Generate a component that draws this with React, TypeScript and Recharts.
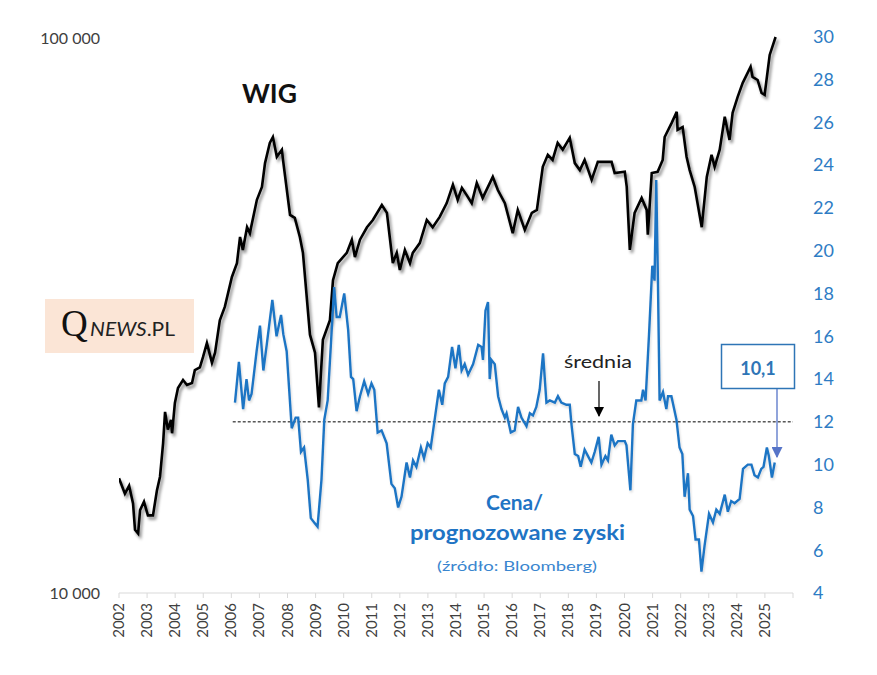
import { LineChart, Line, XAxis, YAxis, ReferenceLine } from "recharts";

const years = [
  2002, 2003, 2004, 2005, 2006, 2007, 2008, 2009, 2010, 2011, 2012, 2013,
  2014, 2015, 2016, 2017, 2018, 2019, 2020, 2021, 2022, 2023, 2024, 2025, 2026,
];

const wigDates = [
  2002.0, 2002.21, 2002.36, 2002.5, 2002.57, 2002.68, 2002.75, 2002.89, 2003.03, 2003.21,
  2003.35, 2003.46, 2003.57, 2003.64, 2003.74, 2003.85, 2003.89, 2003.99, 2004.1, 2004.28,
  2004.42, 2004.6, 2004.7, 2004.88, 2004.99, 2005.13, 2005.31, 2005.42, 2005.59, 2005.77,
  2006.02, 2006.2, 2006.31, 2006.41, 2006.56, 2006.66, 2006.91, 2007.09, 2007.2, 2007.37,
  2007.48, 2007.62, 2007.8, 2007.84, 2008.09, 2008.26, 2008.44, 2008.55, 2008.8, 2008.98,
  2009.12, 2009.26, 2009.51, 2009.62, 2009.79, 2010.11, 2010.29, 2010.4, 2010.58, 2010.83,
  2011.04, 2011.36, 2011.54, 2011.64, 2011.75, 2011.89, 2012.0, 2012.18, 2012.36, 2012.46,
  2012.71, 2012.96, 2013.17, 2013.42, 2013.67, 2013.89, 2014.06, 2014.21, 2014.38, 2014.56,
  2014.74, 2014.95, 2015.31, 2015.49, 2015.74, 2016.02, 2016.2, 2016.45, 2016.7, 2016.88,
  2017.09, 2017.27, 2017.44, 2017.62, 2017.8, 2018.05, 2018.23, 2018.41, 2018.58, 2018.83,
  2019.05, 2019.37, 2019.54, 2019.65, 2020.01, 2020.08, 2020.19, 2020.36, 2020.61, 2020.79,
  2020.83, 2020.97, 2021.18, 2021.36, 2021.43, 2021.68, 2021.86, 2021.89, 2022.07, 2022.21,
  2022.32, 2022.5, 2022.75, 2022.93, 2023.1, 2023.21, 2023.39, 2023.57, 2023.74, 2023.85,
  2024.03, 2024.21, 2024.49, 2024.56, 2024.74, 2024.88, 2024.99, 2025.17, 2025.38,
];
const wigValues = [
  16100, 15100, 15600, 14500, 13000, 12800, 14100, 14600, 13800, 13800,
  15300, 16200, 18600, 21200, 19700, 20500, 19400, 22000, 23400, 24200,
  23700, 23900, 25200, 25500, 26600, 28200, 26000, 27100, 31000, 32800,
  37100, 39300, 43800, 41500, 45600, 44500, 51100, 53900, 59500, 64700,
  66300, 61100, 62900, 60300, 48000, 47400, 43800, 41000, 29200, 27100,
  21600, 28600, 31000, 36600, 39300, 41000, 43300, 40300, 43300, 45600,
  47000, 50000, 48400, 43800, 39300, 41000, 38200, 41500, 39300, 41000,
  42700, 47000, 45600, 47600, 50400, 54400, 51100, 53700, 52100, 50400,
  54800, 51500, 56200, 53200, 50400, 44500, 49000, 45100, 48400, 49000,
  58600, 61600, 60300, 64700, 62900, 66100, 59500, 57800, 60300, 55500,
  59800, 59800, 59800, 57100, 57400, 53900, 41500, 48400, 51500, 49000,
  44200, 57100, 57400, 60300, 66300, 70300, 73600, 68300, 69100, 61100,
  57800, 53900, 45600, 56200, 61600, 58600, 62900, 72100, 65500, 73300,
  78300, 83000, 88700, 85100, 84000, 79600, 79000, 93200, 100400,
];

const peDates = [
  2006.13, 2006.27, 2006.42, 2006.54, 2006.63, 2006.72, 2006.9, 2007.02, 2007.14, 2007.26,
  2007.46, 2007.61, 2007.77, 2007.85, 2007.97, 2008.15, 2008.29, 2008.38, 2008.48, 2008.59,
  2008.72, 2008.83, 2008.95, 2009.07, 2009.21, 2009.31, 2009.43, 2009.54, 2009.66, 2009.75,
  2009.86, 2010.02, 2010.16, 2010.26, 2010.34, 2010.46, 2010.58, 2010.73, 2010.87, 2010.99,
  2011.09, 2011.21, 2011.35, 2011.53, 2011.7, 2011.82, 2011.94, 2012.06, 2012.24, 2012.36,
  2012.47, 2012.59, 2012.75, 2012.86, 2012.99, 2013.1, 2013.25, 2013.39, 2013.51, 2013.6,
  2013.72, 2013.86, 2013.98, 2014.1, 2014.2, 2014.31, 2014.43, 2014.61, 2014.79, 2014.91,
  2014.96, 2015.05, 2015.14, 2015.2, 2015.26, 2015.38, 2015.5, 2015.62, 2015.74, 2015.8,
  2015.95, 2016.09, 2016.21, 2016.33, 2016.51, 2016.63, 2016.74, 2016.86, 2016.98, 2017.1,
  2017.22, 2017.34, 2017.52, 2017.63, 2017.75, 2017.93, 2018.05, 2018.11, 2018.23, 2018.35,
  2018.44, 2018.58, 2018.7, 2018.82, 2018.94, 2019.08, 2019.18, 2019.32, 2019.41, 2019.53,
  2019.65, 2019.77, 2020.01, 2020.07, 2020.21, 2020.3, 2020.42, 2020.6, 2020.66, 2020.75,
  2020.87, 2020.99, 2021.07, 2021.13, 2021.19, 2021.25, 2021.37, 2021.49, 2021.55, 2021.67,
  2021.85, 2021.96, 2022.06, 2022.14, 2022.26, 2022.32, 2022.44, 2022.53, 2022.65, 2022.74,
  2022.85, 2023.01, 2023.15, 2023.27, 2023.39, 2023.57, 2023.68, 2023.8, 2023.92, 2024.1,
  2024.22, 2024.39, 2024.52, 2024.63, 2024.75, 2024.87, 2024.95, 2025.07, 2025.14, 2025.25,
  2025.35,
];
const peValues = [
  12.9, 14.8, 12.6, 14.0, 13.0, 13.3, 15.3, 16.5, 14.4, 15.6,
  17.7, 16.0, 17.0, 16.1, 15.3, 11.7, 12.2, 12.2, 10.6, 10.8,
  9.3, 7.5, 7.3, 7.1, 9.3, 12.1, 13.0, 15.5, 18.3, 16.9,
  16.9, 18.0, 16.3, 14.1, 14.0, 12.5, 13.2, 13.9, 13.3, 13.8,
  13.5, 11.5, 11.6, 11.0, 9.1, 8.9, 8.0, 8.5, 10.1, 9.4,
  10.2, 9.9, 10.8, 10.3, 11.0, 10.8, 12.2, 13.5, 12.8, 13.8,
  14.1, 15.5, 14.5, 15.6, 14.4, 14.7, 14.2, 14.7, 15.6, 15.5,
  14.9, 17.2, 17.6, 14.0, 14.9, 14.7, 13.2, 12.6, 12.2, 12.4,
  11.5, 11.6, 12.7, 12.2, 11.8, 12.4, 12.3, 12.7, 13.5, 15.2,
  12.9, 13.0, 12.9, 13.2, 12.9, 12.8, 12.8, 11.9, 10.5, 10.4,
  9.9, 10.7, 10.4, 10.1, 10.6, 11.3, 10.0, 10.4, 10.2, 11.4,
  10.9, 11.1, 11.1, 10.9, 8.8, 11.9, 13.0, 13.0, 13.5, 13.0,
  16.0, 19.3, 18.6, 23.3, 18.6, 13.0, 13.4, 12.6, 13.2, 13.2,
  12.1, 10.8, 10.5, 8.5, 9.6, 7.9, 7.6, 6.5, 6.5, 5.0,
  6.2, 7.7, 7.3, 7.9, 7.7, 8.6, 7.8, 8.3, 8.2, 8.4,
  9.8, 10.0, 10.0, 9.5, 9.4, 9.8, 9.9, 10.8, 10.4, 9.4,
  10.1,
];

const peAverage = 12;
const averageFrom = 2006.05;
const leftTicks = [10000, 100000];
const rightTicks = [4, 6, 8, 10, 12, 14, 16, 18, 20, 22, 24, 26, 28, 30, 32];

const wigData = wigDates.map((t, i) => ({ t, wig: wigValues[i] }));
const peData = peDates.map((t, i) => ({ t, pe: peValues[i] }));

const font = "Lato, 'Open Sans', sans-serif";
const blue = "#1f74c4";
const axisBlue = "#2e7cc4";
const grey = "#404040";

function XTick(props: any) {
  const { x, y, payload } = props;
  if (payload.value > 2025) return <g />;
  const tx = x + 5;
  const ty = y + 3;
  return (
    <text
      x={tx}
      y={ty}
      transform={`rotate(-90 ${tx} ${ty})`}
      textAnchor="end"
      fontSize={15}
      fontFamily={font}
      fill={grey}
    >
      {payload.value}
    </text>
  );
}

function LeftTick(props: any) {
  const { y, payload } = props;
  const label = payload.value.toLocaleString("en-US").replace(",", " ");
  return (
    <text x={100} y={y} dy="0.35em" textAnchor="end" fontSize={16} fontFamily={font} fill={grey}>
      {label}
    </text>
  );
}

function RightTick(props: any) {
  const { y, payload } = props;
  return (
    <text x={813} y={y} dy="0.35em" textAnchor="start" fontSize={18} fontFamily={font} fill={axisBlue}>
      {payload.value}
    </text>
  );
}

export default function App() {
  return (
    <div style={{ position: "absolute", left: 0, top: 0, width: 877, height: 675, background: "#fff" }}>
      <style>{`.wig-line path { filter: url(#wigShadow); } .pe-line path { filter: url(#peShadow); }`}</style>
      <svg width={0} height={0} style={{ position: "absolute" }}>
        <defs>
          <filter id="wigShadow" x="-10%" y="-10%" width="120%" height="130%">
            <feDropShadow dx="2" dy="3" stdDeviation="1.8" floodColor="#000" floodOpacity="0.45" />
          </filter>
          <filter id="peShadow" x="-10%" y="-10%" width="120%" height="130%">
            <feDropShadow dx="1" dy="2" stdDeviation="1.2" floodColor="#000" floodOpacity="0.15" />
          </filter>
        </defs>
      </svg>

      <LineChart width={877} height={675} margin={{ top: -6, right: 0, bottom: 0, left: 0 }}>
        <XAxis
          type="number"
          dataKey="t"
          domain={[2002, 2026]}
          ticks={years}
          interval={0}
          allowDataOverflow
          height={82}
          stroke="#d9d9d9"
          tickSize={5}
          tick={<XTick />}
        />
        <YAxis
          yAxisId="left"
          scale="log"
          domain={[10000, 120000]}
          allowDataOverflow
          ticks={leftTicks}
          width={119}
          axisLine={false}
          tickLine={false}
          tick={<LeftTick />}
        />
        <YAxis
          yAxisId="right"
          orientation="right"
          domain={[4, 32]}
          ticks={rightTicks}
          interval={0}
          width={84}
          axisLine={false}
          tickLine={false}
          tick={<RightTick />}
        />
        <ReferenceLine
          yAxisId="right"
          segment={[
            { x: averageFrom, y: peAverage },
            { x: 2026, y: peAverage },
          ]}
          stroke="#000"
          strokeWidth={1}
          strokeDasharray="3 2"
        />
        <Line
          className="wig-line"
          data={wigData}
          dataKey="wig"
          yAxisId="left"
          type="linear"
          stroke="#000"
          strokeWidth={2.6}
          dot={false}
          isAnimationActive={false}
        />
        <Line
          className="pe-line"
          data={peData}
          dataKey="pe"
          yAxisId="right"
          type="linear"
          stroke={blue}
          strokeWidth={2.4}
          dot={false}
          isAnimationActive={false}
        />
      </LineChart>

      <svg
        width={877}
        height={675}
        style={{ position: "absolute", left: 0, top: 0, pointerEvents: "none" }}
      >
        <defs>
          <marker id="blackHead" viewBox="0 0 10 10" refX="9" refY="5" markerWidth="10" markerHeight="11" markerUnits="userSpaceOnUse" orient="auto">
            <path d="M0,0 L10,5 L0,10 z" fill="#000" />
          </marker>
          <marker id="blueHead" viewBox="0 0 10 10" refX="9" refY="5" markerWidth="11" markerHeight="11" markerUnits="userSpaceOnUse" orient="auto">
            <path d="M0,0 L10,5 L0,10 z" fill="#5674c8" />
          </marker>
        </defs>

        <text x={242} y={103} fontSize={26} fontWeight={700} fontFamily={font} fill="#111" textLength={55} lengthAdjust="spacingAndGlyphs">
          WIG
        </text>

        <rect x={45} y={299} width={149} height={54} fill="#fbe5d6" />
        <text x={61} y={336} fontSize={37} fontFamily="'Liberation Serif', 'DejaVu Serif', serif" fill="#111">
          Q
        </text>
        <text x={90} y={336} fontSize={19} fontFamily={font} fill="#222" textLength={85} lengthAdjust="spacingAndGlyphs">
          <tspan fontStyle="italic">NEWS</tspan>
          <tspan>.PL</tspan>
        </text>

        <text x={564} y={368} fontSize={17} fontFamily={font} fill="#222" textLength={68} lengthAdjust="spacingAndGlyphs">
          średnia
        </text>
        <line x1={599} y1={381} x2={599} y2={416} stroke="#000" strokeWidth={1.2} markerEnd="url(#blackHead)" />

        <rect x={721.5} y={344.5} width={73} height={44} fill="#fff" stroke="#2e75b6" strokeWidth={1.5} />
        <text x={758} y={375} textAnchor="middle" fontSize={18} fontWeight={700} fontFamily={font} fill="#2e75b6">
          10,1
        </text>
        <line x1={777} y1={389} x2={777} y2={457} stroke="#5674c8" strokeWidth={1.3} markerEnd="url(#blueHead)" />

        <text x={486} y={510} fontSize={21} fontWeight={700} fontFamily={font} fill={blue} textLength={57} lengthAdjust="spacingAndGlyphs">
          Cena/
        </text>
        <text x={410} y={540} fontSize={21} fontWeight={700} fontFamily={font} fill={blue} textLength={215} lengthAdjust="spacingAndGlyphs">
          prognozowane zyski
        </text>
        <text x={437} y={571} fontSize={14} fontFamily={font} fill="#3a86cf" textLength={160} lengthAdjust="spacingAndGlyphs">
          (źródło: Bloomberg)
        </text>
      </svg>
    </div>
  );
}
